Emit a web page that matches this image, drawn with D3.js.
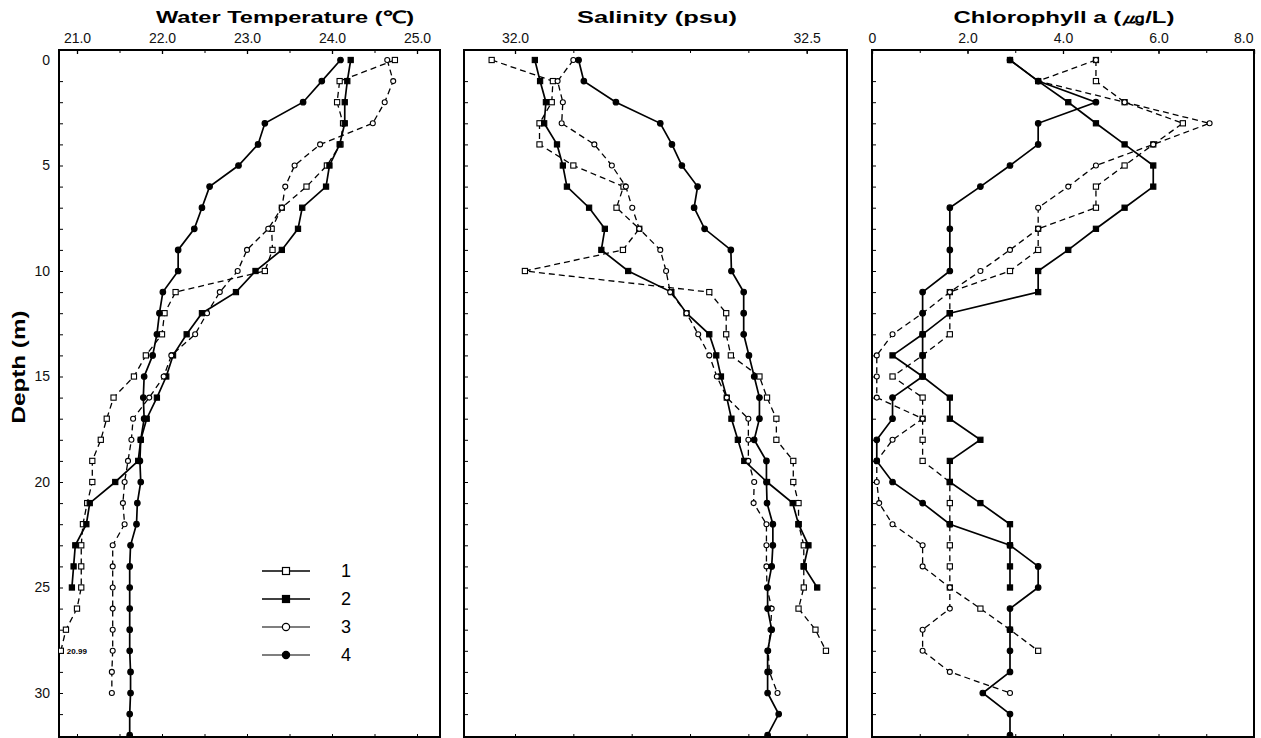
<!DOCTYPE html>
<html>
<head>
<meta charset="utf-8">
<script src="https://cdn.jsdelivr.net/npm/d3@7"></script>
<style>
body{margin:0;background:#fff;}
svg{display:block;font-family:"Liberation Sans",Arial,sans-serif;}
</style>
</head>
<body>
<svg id="chart" width="1261" height="738"></svg>
<script>
// depth of each sample (m)
let depths=[0,1,2,3,4,5,6,7,8,9,10,11,12,13,14,15,16,17,18,19,20,21,22,23,24,25,26,27,28,29,30,31,32];
let stations=['1','2','3','4'];

// water temperature (C), by station, from surface down
let temp1=[24.74,24.09,24.06,24.13,24.10,23.94,23.70,23.41,23.29,23.30,23.21,22.16,22.03,22.00,21.81,21.67,21.43,21.35,21.28,21.18,21.18,21.12,21.07,21.05,21.05,21.05,21.00,20.87,20.81];
let temp2=[24.22,24.18,24.15,24.15,24.09,23.97,23.93,23.65,23.60,23.41,23.10,22.87,22.47,22.29,22.13,22.05,21.94,21.82,21.75,21.72,21.45,21.15,21.11,20.98,20.96,20.94];
let temp3=[24.65,24.72,24.62,24.48,23.86,23.56,23.45,23.41,23.25,23.00,22.89,22.68,22.53,22.39,22.11,22.02,21.85,21.66,21.64,21.60,21.56,21.54,21.56,21.42,21.42,21.42,21.42,21.42,21.42,21.41,21.41];
let temp4=[24.10,23.88,23.66,23.21,23.13,22.90,22.56,22.47,22.38,22.19,22.19,22.01,21.97,21.94,21.89,21.79,21.78,21.79,21.75,21.74,21.75,21.71,21.70,21.63,21.62,21.62,21.62,21.62,21.62,21.63,21.63,21.62,21.62];

// salinity (psu)
let sal1=[31.960,32.065,32.063,32.042,32.042,32.100,32.186,32.174,32.213,32.185,32.017,32.333,32.362,32.362,32.370,32.419,32.432,32.448,32.448,32.477,32.477,32.486,32.486,32.495,32.495,32.495,32.486,32.515,32.533];
let sal2=[32.034,32.043,32.053,32.050,32.072,32.082,32.089,32.127,32.154,32.148,32.194,32.268,32.294,32.333,32.345,32.353,32.363,32.371,32.382,32.393,32.432,32.476,32.486,32.503,32.495,32.518];
let sal3=[32.100,32.073,32.082,32.080,32.136,32.166,32.190,32.201,32.213,32.249,32.259,32.266,32.294,32.314,32.333,32.346,32.363,32.400,32.400,32.400,32.410,32.409,32.431,32.431,32.431,32.432,32.440,32.438,32.434,32.436,32.450];
let sal4=[32.109,32.118,32.173,32.249,32.269,32.286,32.313,32.307,32.325,32.370,32.371,32.392,32.392,32.392,32.401,32.410,32.419,32.419,32.410,32.431,32.431,32.432,32.442,32.442,32.440,32.433,32.433,32.440,32.433,32.433,32.433,32.452,32.433];

// chlorophyll a (ug/L)
let chl1=[4.69,4.69,5.29,6.51,5.89,5.29,4.69,4.69,3.48,3.48,2.89,1.63,1.63,1.63,1.06,0.43,1.06,1.06,1.06,1.06,1.63,1.63,1.63,1.63,1.63,1.63,2.27,2.89,3.48];
let chl2=[2.89,3.48,4.11,4.69,5.29,5.89,5.89,5.29,4.69,4.11,3.48,3.48,1.63,1.06,0.43,1.06,1.63,1.63,2.27,1.63,1.63,2.27,2.89,2.89,2.89,2.89];
let chl3=[4.69,3.48,5.29,7.07,5.89,4.69,4.11,3.48,3.48,2.89,2.27,1.63,1.06,0.43,0.10,0.10,0.10,1.06,0.43,0.10,0.10,0.15,0.43,1.06,1.06,1.63,1.63,1.06,1.06,1.63,2.89];
let chl4=[2.89,3.48,4.69,3.48,3.48,2.89,2.27,1.63,1.63,1.63,1.63,1.06,1.06,1.06,1.06,1.06,0.43,0.43,0.10,0.10,0.43,1.06,1.63,2.89,3.48,3.48,2.89,2.89,2.89,2.89,2.32,2.89,2.89];

let tempTicks=[21,22,23,24,25];
let salTicks=[32.0,32.5];
let chlTicks=[0,2,4,6,8];
let depthTicks=[0,5,10,15,20,25,30];

let svg=d3.select('#chart');
let frameTop=50, frameBottom=737;

let y=d3.scaleLinear().domain([0,32]).range([60,735.2]);

let styles=[
  {dash:'6,4', shape:'square', fill:'#fff'},
  {dash:null, shape:'square', fill:'#000'},
  {dash:'6,4', shape:'circle', fill:'#fff'},
  {dash:null, shape:'circle', fill:'#000'}
];

let panels=[
  {title:'Water Temperature (℃)', titleX:285, titleLen:258, left:59, right:440,
   x:d3.scaleLinear().domain([21,25]).range([77,417]),
   ticks:tempTicks, fmt:d3.format('.1f'), minor:0.5,
   series:[temp1,temp2,temp3,temp4]},
  {title:'Salinity (psu)', titleX:657, titleLen:160, left:464, right:847,
   x:d3.scaleLinear().domain([32,32.5]).range([515,806.7]),
   ticks:salTicks, fmt:d3.format('.1f'), minor:0.1,
   series:[sal1,sal2,sal3,sal4]},
  {title:'Chlorophyll a (㎍/L)', titleX:1064, titleLen:221, left:872, right:1254,
   x:d3.scaleLinear().domain([0,8]).range([872,1254]),
   ticks:chlTicks, fmt:d=>d===0?'0':d.toFixed(1), minor:1,
   series:[chl1,chl2,chl3,chl4]}
];

panels.forEach((p,pi)=>{
  let g=svg.append('g');
  let x=p.x;
  let lo=x.invert(p.left), hi=x.invert(p.right);
  let minorVals=d3.range(Math.ceil(lo/p.minor)*p.minor, hi, p.minor);

  g.append('clipPath').attr('id','clip'+pi)
    .append('rect').attr('x',p.left).attr('y',frameTop).attr('width',p.right-p.left).attr('height',frameBottom-frameTop);

  // top axis with labels
  let ax=g.append('g').attr('transform',`translate(0,${frameTop})`)
    .call(d3.axisTop(x).tickValues(p.ticks).tickFormat(p.fmt).tickSize(-4).tickPadding(7));
  ax.select('.domain').remove();
  ax.selectAll('text').attr('font-size',14).attr('font-family','"Liberation Sans",Arial,sans-serif').attr('fill','#111');
  ax.selectAll('.tick').filter(d=>d===p.ticks[p.ticks.length-1] && pi===2).select('text').attr('text-anchor','end').attr('dx',-1);
  ax.selectAll('line').attr('stroke-width',1.3);

  // minor ticks top/bottom
  g.append('g').attr('transform',`translate(0,${frameTop})`)
    .call(d3.axisTop(x).tickValues(minorVals).tickFormat('').tickSize(-3))
    .call(a=>a.select('.domain').remove());
  g.append('g').attr('transform',`translate(0,${frameBottom})`)
    .call(d3.axisBottom(x).tickValues(minorVals).tickFormat('').tickSize(-3))
    .call(a=>a.select('.domain').remove());

  // depth ticks every metre, labels on the first panel only
  let la=g.append('g').attr('transform',`translate(${p.left},0)`)
    .call(d3.axisLeft(y).tickValues(depths.slice(1,32)).tickFormat('').tickSize(-4));
  la.select('.domain').remove();
  if(pi===0){
    let lab=g.append('g').attr('transform',`translate(${p.left},0)`)
      .call(d3.axisLeft(y).tickValues(depthTicks).tickSize(0).tickPadding(9));
    lab.select('.domain').remove();
    lab.selectAll('text').attr('font-size',14).attr('fill','#111').attr('font-family','"Liberation Sans",Arial,sans-serif');
  }

  // frame
  g.append('rect').attr('x',p.left).attr('y',frameTop).attr('width',p.right-p.left).attr('height',frameBottom-frameTop)
    .attr('fill','none').attr('stroke','#000').attr('stroke-width',2);

  // title
  g.append('text').attr('x',p.titleX).attr('y',23).attr('text-anchor','middle')
    .attr('font-size',17).attr('font-weight','bold')
    .attr('textLength',p.titleLen).attr('lengthAdjust','spacingAndGlyphs')
    .text(p.title);

  // profiles
  let plot=g.append('g').attr('clip-path',`url(#clip${pi})`);
  let line=d3.line().x(d=>x(d[0])).y(d=>y(d[1]));
  p.series.forEach((vals,si)=>{
    let pts=vals.map((v,i)=>[v,depths[i]]);
    plot.append('path').datum(pts).attr('d',line)
      .attr('fill','none').attr('stroke','#000')
      .attr('stroke-width',styles[si].dash?1.3:1.7)
      .attr('stroke-dasharray',styles[si].dash);
  });
  p.series.forEach((vals,si)=>{
    let st=styles[si];
    let pts=vals.map((v,i)=>[v,depths[i]]);
    let m=plot.append('g');
    if(st.shape==='square'){
      m.selectAll('rect').data(pts).join('rect')
        .attr('x',d=>x(d[0])-2.6).attr('y',d=>y(d[1])-2.6)
        .attr('width',5.2).attr('height',5.2)
        .attr('fill',st.fill).attr('stroke','#000').attr('stroke-width',1.1);
    }else{
      m.selectAll('circle').data(pts).join('circle')
        .attr('cx',d=>x(d[0])).attr('cy',d=>y(d[1]))
        .attr('r',st.fill==='#000'?2.8:2.5)
        .attr('fill',st.fill).attr('stroke','#000').attr('stroke-width',1.1);
    }
  });

  if(pi===0){
    // off-scale value note
    g.append('text').attr('x',x(temp1[28])+6).attr('y',y(depths[28])+3)
      .attr('font-size',8).attr('font-weight','bold').text('20.99');

    // legend
    let lg=g.append('g');
    let rowY=d3.scaleLinear().domain([0,3]).range([571,655]);
    stations.forEach((s,i)=>{
      let st=styles[i];
      let yy=rowY(i);
      lg.append('line').attr('x1',262).attr('x2',310).attr('y1',yy).attr('y2',yy)
        .attr('stroke','#000').attr('stroke-width',i<2?1.6:1.2);
      if(st.shape==='square'){
        lg.append('rect').attr('x',282.5).attr('y',yy-3.5).attr('width',7).attr('height',7)
          .attr('fill',st.fill).attr('stroke','#000').attr('stroke-width',1.2);
      }else{
        lg.append('circle').attr('cx',286).attr('cy',yy).attr('r',3.6)
          .attr('fill',st.fill).attr('stroke','#000').attr('stroke-width',1.2);
      }
      lg.append('text').attr('x',346).attr('y',yy+6).attr('text-anchor','middle')
        .attr('font-size',18).text(s);
    });
  }
});

// depth axis title
svg.append('text').attr('transform','translate(25,367) rotate(-90)')
  .attr('text-anchor','middle').attr('font-size',18).attr('font-weight','bold')
  .attr('textLength',113).attr('lengthAdjust','spacingAndGlyphs')
  .text('Depth (m)');
</script>
</body>
</html>
